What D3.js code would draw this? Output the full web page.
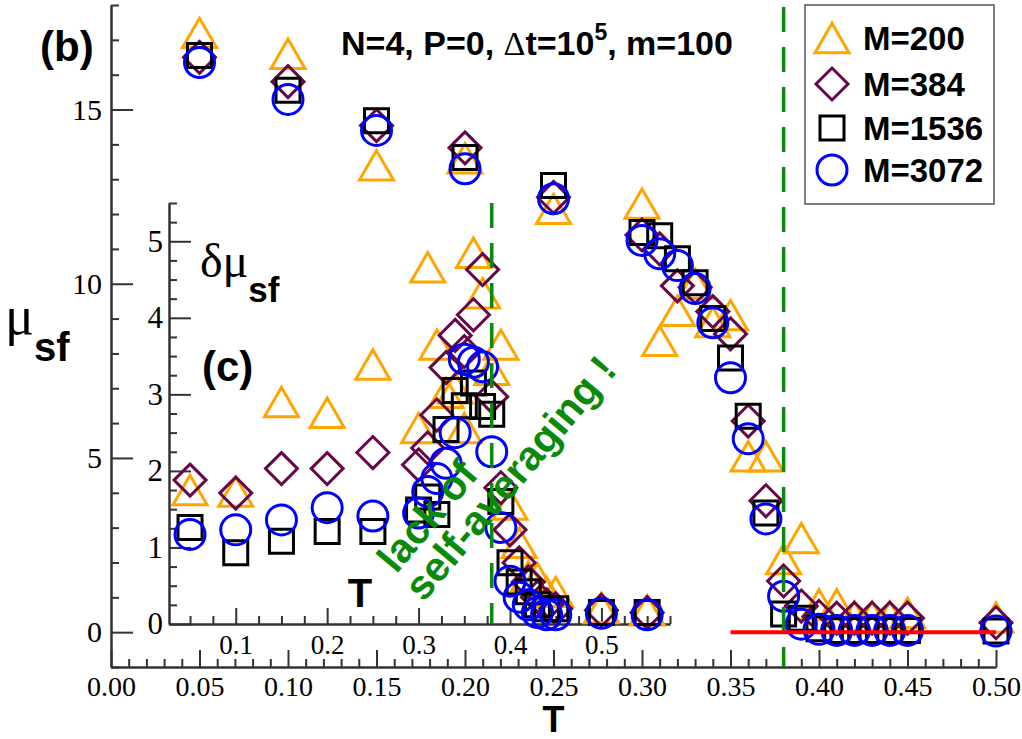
<!DOCTYPE html>
<html>
<head>
<meta charset="utf-8">
<script src="https://cdn.jsdelivr.net/npm/d3@7"></script>
<style>
  body { margin: 0; background: #fff; }
  svg { display: block; }
  .axis path, .axis line { stroke: #333; stroke-width: 2; }
</style>
</head>
<body>
<svg id="chart" width="1022" height="739"></svg>
<script>
// series labels (legend)
const seriesNames = ["M=200", "M=384", "M=1536", "M=3072"];

// main panel (b): mu_sf vs T
const tMain = [0.05, 0.10, 0.15, 0.20, 0.25, 0.30, 0.31, 0.32, 0.33, 0.34, 0.35,
               0.36, 0.37, 0.38, 0.39, 0.40, 0.41, 0.42, 0.43, 0.44, 0.45, 0.50];
const mu200  = [17.2, 16.6, 13.4, 13.6, 12.15, 12.3, 8.36, 9.22, 10.0, 8.9, 9.1,
                5.05, 5.05, 2.1, 2.7, 0.8, 0.8, 0.45, 0.45, 0.45, 0.55, 0.42];
const mu384  = [16.5, 15.8, 14.54, 13.9, 12.48, 11.4, 11.0, 9.94, 9.9, 9.2, 8.56,
                6.06, 3.77, 1.47, 0.75, 0.45, 0.4, 0.4, 0.4, 0.4, 0.4, 0.27];
const mu1536 = [16.55, 15.55, 14.68, 13.62, 12.82, 11.47, 11.38, 10.72, 10.03, 9.0, 7.87,
                6.2, 3.42, 0.52, 0.4, 0.1, 0.05, 0.05, 0.05, 0.05, 0.05, 0.03];
const mu3072 = [16.35, 15.29, 14.4, 13.3, 12.44, 11.24, 10.86, 10.52, 9.86, 8.88, 7.3,
                5.55, 3.25, 1.03, 0.23, 0.08, 0.05, 0.05, 0.05, 0.05, 0.05, 0.03];

// inset panel (c): delta mu_sf vs T
const tInset = [0.05, 0.10, 0.15, 0.20, 0.25, 0.30, 0.31, 0.32, 0.33, 0.34, 0.35, 0.36,
                0.37, 0.38, 0.39, 0.40, 0.41, 0.42, 0.43, 0.44, 0.45, 0.50, 0.55];
const dmu200  = [1.75, 1.73, 2.9, 2.76, 3.39, 2.56, 4.66, 3.65, 3.02, 3.08, 2.56, 4.85,
                 4.32, 3.32, 3.65, 1.56, 1.06, 0.62, 0.6, 0.42, 0.42, 0.21, 0.18];
const dmu384  = [1.88, 1.71, 2.03, 2.03, 2.24, 2.08, 2.3, 2.73, 3.35, 3.77, 3.56, 4.04,
                 4.63, 2.97, 1.78, 1.23, 0.8, 0.55, 0.35, 0.25, 0.2, 0.18, 0.15];
const dmu1536 = [1.26, 0.93, 1.08, 1.21, 1.21, 1.49, 1.66, 1.43, 2.54, 3.05, 2.85, 3.15,
                 2.84, 2.74, 1.6, 0.8, 0.55, 0.42, 0.25, 0.2, 0.2, 0.15, 0.15];
const dmu3072 = [1.17, 1.23, 1.36, 1.52, 1.41, 1.45, 1.73, 1.9, 2.1, 2.5, 3.46, 3.42,
                 3.36, 2.25, 1.26, 0.56, 0.35, 0.25, 0.15, 0.12, 0.12, 0.14, 0.12];

// reference lines
const tCross = 0.38;           // green dashed
const zeroLine = [0.35, 0.50]; // red line at mu = 0

const shapes = ["triangle", "diamond", "square", "circle"];
const colors = ["#ffa500", "#670748", "#000000", "#0000ff"];

const sans = "'Liberation Sans', Arial, Helvetica, sans-serif";
const serif = "'Liberation Serif', 'DejaVu Serif', 'Times New Roman', serif";

const svg = d3.select("#chart");

const x = d3.scaleLinear().domain([0, 0.5]).range([111, 996]);
const y = d3.scaleLinear().domain([-1, 18]).range([667, 5]);
const xi = d3.scaleLinear().domain([0.027, 0.575]).range([169, 670]);
const yi = d3.scaleLinear().domain([0, 5.5]).range([624, 203]);

function shapePath(s) {
  if (s === "triangle") return "M0,-14.7L17,14.7L-17,14.7Z";
  if (s === "diamond") return "M0,-16L16,0L0,16L-16,0Z";
  if (s === "square") return "M-12,-12H12V12H-12Z";
  return d3.symbol(d3.symbolCircle, Math.PI * 225)();
}

function addSymbols(g, xs, ys, tVals, vals, k) {
  g.append("g")
    .selectAll("path")
    .data(tVals.map((t, i) => ({t: t, v: vals[i]})))
    .join("path")
    .attr("transform", d => `translate(${xs(d.t)},${ys(d.v)})`)
    .attr("d", shapePath(shapes[k]))
    .attr("fill", "none")
    .attr("stroke", colors[k])
    .attr("stroke-width", 3);
}

function styleLabels(g, size) {
  g.selectAll("text")
    .attr("font-family", serif)
    .style("font-family", serif)
    .style("font-size", size + "px")
    .attr("fill", "#000");
}

// ---- main axes
const range = (a, b, step) => d3.range(a, b + 1).map(i => +(i * step).toFixed(4));

svg.append("g").attr("class", "axis").attr("transform", "translate(0,667)")
  .call(d3.axisBottom(x).tickValues(range(0, 50, 0.01).filter((d, i) => i % 5)).tickSize(-8).tickSizeOuter(0).tickFormat(""));
svg.append("g").attr("class", "axis").attr("transform", "translate(0,667)")
  .call(d3.axisBottom(x).tickValues(range(0, 10, 0.05)).tickSize(-17).tickSizeOuter(0).tickPadding(9).tickFormat(d3.format(".2f")))
  .call(g => styleLabels(g, 28));

svg.append("g").attr("class", "axis").attr("transform", "translate(111,0)")
  .call(d3.axisLeft(y).tickValues(d3.range(-1, 19).filter(d => d % 5)).tickSize(-8).tickSizeOuter(0).tickFormat(""));
svg.append("g").attr("class", "axis").attr("transform", "translate(111,0)")
  .call(d3.axisLeft(y).tickValues([0, 5, 10, 15]).tickSize(-22).tickSizeOuter(0).tickPadding(9).tickFormat(d3.format("d")))
  .call(g => styleLabels(g, 30));

// ---- main data
const mainSets = [mu200, mu384, mu1536, mu3072];
const gMain = svg.append("g");
mainSets.forEach((vals, k) => addSymbols(gMain, x, y, tMain, vals, k));

// ---- inset axes
svg.append("g").attr("class", "axis").attr("transform", "translate(0,624)")
  .call(d3.axisBottom(xi).tickValues(range(2, 23, 0.025).filter((d, i) => (i + 2) % 4)).tickSize(-8).tickSizeOuter(0).tickFormat(""));
svg.append("g").attr("class", "axis").attr("transform", "translate(0,624)")
  .call(d3.axisBottom(xi).tickValues([0.1, 0.2, 0.3, 0.4, 0.5]).tickSize(-16).tickSizeOuter(0).tickPadding(11).tickFormat(d3.format(".1f")))
  .call(g => styleLabels(g, 27));

svg.append("g").attr("class", "axis").attr("transform", "translate(169,0)")
  .call(d3.axisLeft(yi).tickValues(range(1, 22, 0.25).filter((d, i) => (i + 1) % 4)).tickSize(-8).tickSizeOuter(0).tickFormat(""));
svg.append("g").attr("class", "axis").attr("transform", "translate(169,0)")
  .call(d3.axisLeft(yi).tickValues([0, 1, 2, 3, 4, 5]).tickSize(-22).tickSizeOuter(0).tickPadding(6).tickFormat(d3.format("d")))
  .call(g => styleLabels(g, 31));

// ---- inset data
const insetSets = [dmu200, dmu384, dmu1536, dmu3072];
const gInset = svg.append("g");
insetSets.forEach((vals, k) => addSymbols(gInset, xi, yi, tInset, vals, k));

// ---- reference lines
svg.append("line")
  .attr("x1", x(tCross)).attr("x2", x(tCross)).attr("y1", y(18) + 2).attr("y2", y(-1))
  .attr("stroke", "#0a8a0a").attr("stroke-width", 3.5).attr("stroke-dasharray", "25,15");
svg.append("line")
  .attr("x1", xi(tCross)).attr("x2", xi(tCross)).attr("y1", yi(5.5)).attr("y2", yi(0))
  .attr("stroke", "#0a8a0a").attr("stroke-width", 3.5).attr("stroke-dasharray", "25,15");
svg.append("line")
  .attr("x1", x(zeroLine[0])).attr("x2", x(zeroLine[1])).attr("y1", y(0)).attr("y2", y(0))
  .attr("stroke", "#ff0000").attr("stroke-width", 4);

// ---- texts
svg.append("text").attr("x", 40).attr("y", 61)
  .style("font-family", sans).style("font-weight", "bold").style("font-size", "42px").text("(b)");

const title = svg.append("text").attr("x", 341).attr("y", 55)
  .style("font-family", sans).style("font-weight", "bold").style("font-size", "34px");
title.append("tspan").text("N=4, P=0, ");
title.append("tspan").style("font-family", serif).style("font-weight", "normal").text("Δ");
title.append("tspan").text("t=10");
title.append("tspan").attr("dy", -15).style("font-size", "23px").text("5");
title.append("tspan").attr("dy", 15).text(", m=100");

const ylab = svg.append("text").attr("x", 5).attr("y", 334)
  .style("font-family", serif).style("font-size", "54px");
ylab.append("tspan").text("μ");
ylab.append("tspan").attr("dy", 27).style("font-family", sans).style("font-weight", "bold").style("font-size", "40px").text("sf");

svg.append("text").attr("x", x(0.25)).attr("y", 732).attr("text-anchor", "middle")
  .style("font-family", sans).style("font-weight", "bold").style("font-size", "36px").text("T");

const ilab = svg.append("text").attr("x", 200).attr("y", 277)
  .style("font-family", serif).style("font-size", "48px");
ilab.append("tspan").text("δμ");
ilab.append("tspan").attr("dy", 25).style("font-family", sans).style("font-weight", "bold").style("font-size", "35px").text("sf");

svg.append("text").attr("x", 202).attr("y", 381)
  .style("font-family", sans).style("font-weight", "bold").style("font-size", "42px").text("(c)");

svg.append("text").attr("x", 360).attr("y", 607).attr("text-anchor", "middle")
  .style("font-family", sans).style("font-weight", "bold").style("font-size", "40px").text("T");

svg.append("text").attr("transform", "translate(438,525) rotate(-50)").attr("text-anchor", "middle")
  .style("font-family", sans).style("font-weight", "bold").style("font-size", "41px").attr("fill", "#0a8a0a")
  .text("lack of");
svg.append("text").attr("transform", "translate(521,487) rotate(-50)").attr("text-anchor", "middle")
  .style("font-family", sans).style("font-weight", "bold").style("font-size", "41px").attr("fill", "#0a8a0a")
  .text("self-averaging !");

// ---- legend
const legend = svg.append("g");
legend.append("rect").attr("x", 805).attr("y", 5).attr("width", 189).attr("height", 199)
  .attr("fill", "#fff").attr("stroke", "#555").attr("stroke-width", 1.5);
const rowY = [38, 84, 128, 170];
seriesNames.forEach((name, k) => {
  legend.append("path")
    .attr("transform", `translate(832,${rowY[k]})`)
    .attr("d", shapePath(shapes[k]))
    .attr("fill", "none").attr("stroke", colors[k]).attr("stroke-width", 3);
  legend.append("text").attr("x", 863).attr("y", rowY[k] + 12)
    .style("font-family", sans).style("font-weight", "bold").style("font-size", "33px").text(name);
});
</script>
</body>
</html>
